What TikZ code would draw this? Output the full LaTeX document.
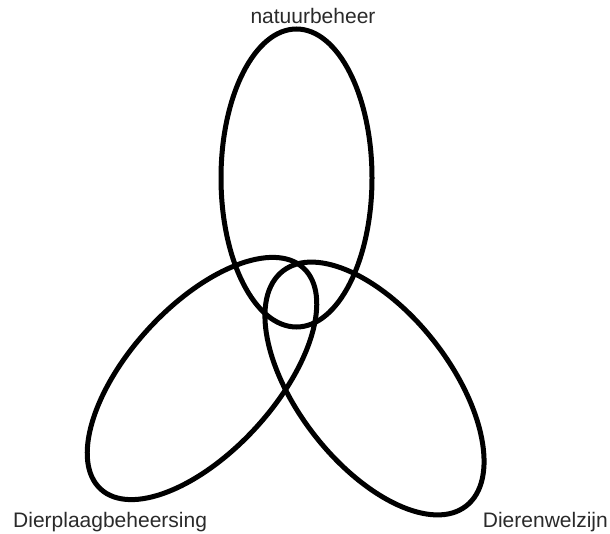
\documentclass[tikz,border=0pt]{standalone}
\usepackage{fontspec}
\setmainfont{Liberation Sans}
\definecolor{labelgray}{HTML}{2A2A2A}
\begin{document}
\begin{tikzpicture}[x=1pt,y=1pt,
  ring/.style={draw=black,line width=5pt},
  lbl/.style={inner sep=0pt,text=labelgray,font=\fontsize{21}{24}\selectfont}]
\useasboundingbox (0,0) rectangle (610,533);
% top ellipse
\draw[ring] (296.5,355) ellipse [x radius=75.5, y radius=149];
% left ellipse
\draw[ring,rotate around={47.5:(202,154.5)}] (202,154.5) ellipse [x radius=150, y radius=73];
% right ellipse
\draw[ring,rotate around={128:(374.5,144.5)}] (374.5,144.5) ellipse [x radius=149, y radius=76];
\node[lbl,anchor=base] (nat) at (313,509) {natuurbeheer};
\node[lbl,anchor=base west] (dpb) at (13,6) {Dierplaagbeheersing};
\node[lbl,anchor=base east] (dw) at (608,6) {Dierenwelzijn};
\end{tikzpicture}
\end{document}
